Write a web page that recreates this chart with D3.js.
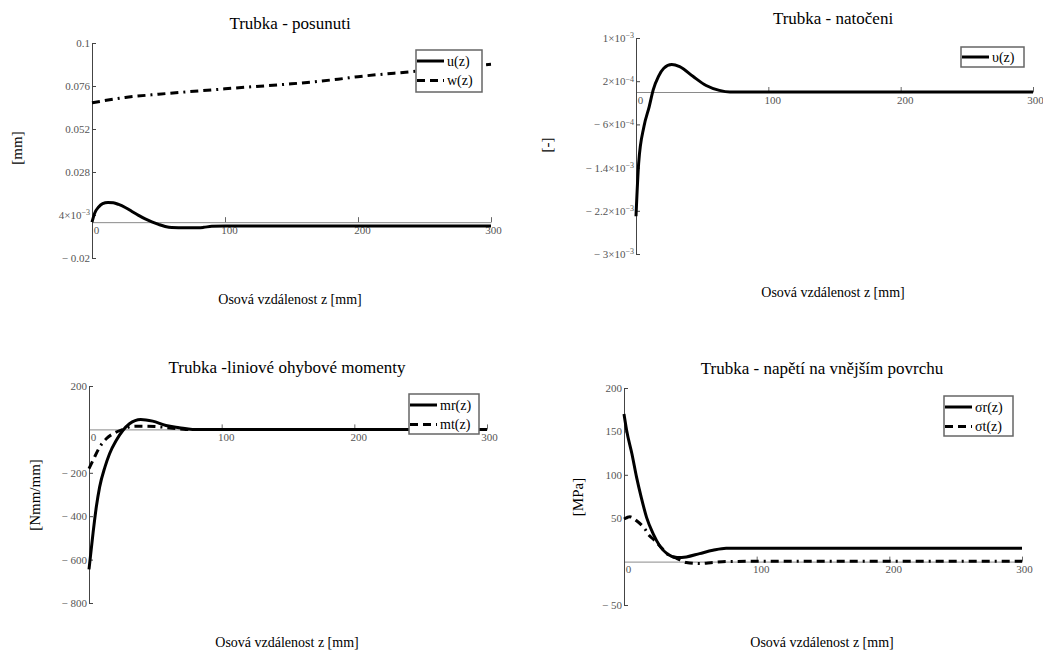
<!DOCTYPE html>
<html>
<head>
<meta charset="utf-8">
<script src="https://cdn.jsdelivr.net/npm/d3@7"></script>
<style>
  body { margin: 0; background: #fff; }
  svg text { font-family: "Liberation Serif", "DejaVu Serif", serif !important; }
</style>
</head>
<body>
<svg id="chart" width="1043" height="650"></svg>
<script>
// shared x axis (z in mm)
var xTicks = [0, 100, 200, 300];

// Trubka - posunuti
var zU = [0, 2, 5, 8, 12, 16, 20, 25, 30, 35, 40, 45, 50, 55, 60, 70, 80, 84, 90, 100, 150, 200, 250, 300];
var uVals = [0.0, 0.005, 0.0085, 0.0103, 0.011, 0.0108, 0.0099, 0.0082, 0.006, 0.0038, 0.0018, 0.0002, -0.0012, -0.0024, -0.003, -0.0031, -0.0031, -0.0029, -0.0023, -0.0022, -0.0022, -0.0022, -0.0022, -0.0022];
var zW = [0, 25, 50, 100, 115, 150, 185, 200, 240, 300];
var wVals = [0.0666, 0.0696, 0.0714, 0.0744, 0.0753, 0.0772, 0.0798, 0.0812, 0.084, 0.0881];
var posTicks = [0.1, 0.076, 0.052, 0.028, 0.004, -0.02];
var posLabels = ["0.1", "0.076", "0.052", "0.028", "4×10^−3", "− 0.02"];

// Trubka - natoceni
var zRot = [0, 2, 6, 10, 13, 17, 21, 27, 33, 43, 53, 63, 71, 80, 100, 200, 300];
var rotVals = [-0.0023, -0.00132, -0.00064, -0.00027, 0.00004, 0.00029, 0.00044, 0.00051, 0.00047, 0.00029, 0.00012, 0.00003, 0.0, 0.0, 0.0, 0.0, 0.0];
var rotTicks = [0.001, 0.0002, -0.0006, -0.0014, -0.0022, -0.003];
var rotLabels = ["1×10^−3", "2×10^−4", "− 6×10^−4", "− 1.4×10^−3", "− 2.2×10^−3", "− 3×10^−3"];

// Trubka - liniove ohybove momenty
var zMr = [0, 3, 5.5, 8, 12, 15.5, 20.5, 25.5, 30.5, 39, 48, 58, 68, 78, 100, 200, 300];
var mrVals = [-645, -480, -358, -266, -174, -112, -51, -5, 26, 46, 38, 18, 8, 0, 0, 0, 0];
var zMt = [0, 3, 8, 13, 19, 25.5, 33, 41, 51, 63, 73, 100, 200, 300];
var mtVals = [-181, -143, -82, -43, -17, 0, 14, 15, 13, 5, 0, 0, 0, 0];
var momTicks = [200, -200, -400, -600, -800];
var momLabels = ["200", "− 200", "− 400", "− 600", "− 800"];

// Trubka - napeti na vnejsim povrchu
var zSr = [0, 2, 6, 9.5, 13, 17, 22, 27, 33, 40, 47, 57, 67, 77, 100, 200, 300];
var srVals = [170, 151, 124, 97, 74, 51, 32, 18, 8.5, 4.6, 5.4, 9.2, 13, 15.4, 15.5, 15.5, 15.5];
var zSt = [0, 4.5, 9.5, 16, 18.5, 22, 27, 33, 40, 47, 57, 67, 77, 100, 200, 300];
var stVals = [49, 51.6, 47, 37, 31, 26, 18, 8.5, 3.5, -1.1, -2.3, -1, 0, 0.4, 0.4, 0.4];
var strTicks = [200, 150, 100, 50, -50];
var strLabels = ["200", "150", "100", "50", "− 50"];

var DASH = "8,5,8,5,2,5";

var svg = d3.select("#chart");

var panels = [
  { title: "Trubka - posunuti", yLabel: "[mm]",
    x0: 92, x1: 491, yTop: 43, yBottom: 258, yDomain: [-0.02, 0.1],
    yTicks: posTicks, yLabels: posLabels,
    titleXY: [290, 29], yLabelXY: [17, 148], xLabelXY: [290, 304],
    legend: { x: 416, y: 50, w: 66, h: 42 },
    series: [ { name: "u(z)", z: zU, v: uVals, dash: null },
              { name: "w(z)", z: zW, v: wVals, dash: DASH } ] },
  { title: "Trubka - natočeni", yLabel: "[-]",
    x0: 636, x1: 1033, yTop: 38, yBottom: 254, yDomain: [-0.003, 0.001],
    yTicks: rotTicks, yLabels: rotLabels,
    titleXY: [833, 24], yLabelXY: [547, 145], xLabelXY: [833, 297],
    legend: { x: 961, y: 47, w: 63, h: 20 },
    series: [ { name: "υ(z)", z: zRot, v: rotVals, dash: null } ] },
  { title: "Trubka -liniové ohybové momenty", yLabel: "[Nmm/mm]",
    x0: 89, x1: 487, yTop: 386, yBottom: 603, yDomain: [-800, 200],
    yTicks: momTicks, yLabels: momLabels,
    titleXY: [287, 373], yLabelXY: [35, 495], xLabelXY: [287, 647],
    legend: { x: 409, y: 394, w: 70, h: 40 },
    series: [ { name: "mr(z)", z: zMr, v: mrVals, dash: null },
              { name: "mt(z)", z: zMt, v: mtVals, dash: DASH } ] },
  { title: "Trubka - napětí na vnějším povrchu", yLabel: "[MPa]",
    x0: 624, x1: 1022, yTop: 388, yBottom: 605, yDomain: [-50, 200],
    yTicks: strTicks, yLabels: strLabels,
    titleXY: [822, 374], yLabelXY: [578, 497], xLabelXY: [822, 647],
    legend: { x: 944, y: 396, w: 69, h: 40 },
    series: [ { name: "σr(z)", z: zSr, v: srVals, dash: null },
              { name: "σt(z)", z: zSt, v: stVals, dash: DASH } ] }
];

panels.forEach(drawPanel);

// writes "a×10^b" as text with a raised exponent
function setLabel(sel, label) {
  sel.text(null);
  var parts = label.split("^");
  sel.append("tspan").text(parts[0]);
  if (parts.length > 1) {
    sel.append("tspan").attr("dy", "-0.45em").attr("font-size", "8px").text(parts[1]);
  }
}

function drawPanel(p) {
  var g = svg.append("g");

  var x = d3.scaleLinear().domain([0, 300]).range([p.x0, p.x1]);
  var y = d3.scaleLinear().domain(p.yDomain).range([p.yBottom, p.yTop]);

  // zero line with z ticks
  var xAxis = d3.axisBottom(x)
    .tickValues(xTicks)
    .tickSizeInner(-5)
    .tickSizeOuter(0)
    .tickPadding(4)
    .tickFormat(d3.format("d"));

  var gx = g.append("g")
    .attr("transform", "translate(0," + y(0) + ")")
    .call(xAxis);
  gx.select(".domain").attr("stroke", "#8a8a8a");
  gx.selectAll(".tick line").attr("stroke", "#666");
  gx.selectAll(".tick text")
    .attr("dx", function(d) { return d === 300 ? 2 : 4; })
    .attr("fill", "#555")
    .style("font-size", "11px");

  var yAxis = d3.axisLeft(y)
    .tickValues(p.yTicks)
    .tickSizeInner(-4)
    .tickSizeOuter(0)
    .tickPadding(2);

  var gy = g.append("g")
    .attr("transform", "translate(" + p.x0 + ",0)")
    .call(yAxis);
  gy.select(".domain").attr("stroke", "#444");
  gy.selectAll(".tick line").attr("stroke", "#444");
  gy.selectAll(".tick text")
    .attr("fill", "#555")
    .style("font-size", "11px")
    .each(function(d, i) { setLabel(d3.select(this), p.yLabels[i]); });

  // curves
  var line = d3.line()
    .x(function(d) { return x(d[0]); })
    .y(function(d) { return y(d[1]); })
    .curve(d3.curveMonotoneX);

  p.series.forEach(function(s) {
    var pts = s.z.map(function(z, i) { return [z, s.v[i]]; });
    g.append("path")
      .datum(pts)
      .attr("fill", "none")
      .attr("stroke", "#000")
      .attr("stroke-width", 3)
      .attr("stroke-dasharray", s.dash)
      .attr("d", line);
  });

  // texts
  g.append("text")
    .attr("x", p.titleXY[0]).attr("y", p.titleXY[1])
    .attr("text-anchor", "middle")
    .style("font-size", "17px")
    .text(p.title);

  g.append("text")
    .attr("transform", "translate(" + p.yLabelXY[0] + "," + p.yLabelXY[1] + ") rotate(-90)")
    .attr("text-anchor", "middle")
    .attr("dy", "0.35em")
    .style("font-size", "15px")
    .text(p.yLabel);

  g.append("text")
    .attr("x", p.xLabelXY[0]).attr("y", p.xLabelXY[1])
    .attr("text-anchor", "middle")
    .style("font-size", "14px")
    .text("Osová vzdálenost z [mm]");

  // legend
  var L = p.legend;
  var lg = g.append("g").attr("transform", "translate(" + L.x + "," + L.y + ")");
  lg.append("rect")
    .attr("width", L.w).attr("height", L.h)
    .attr("fill", "#fff")
    .attr("stroke", "#666")
    .attr("stroke-width", 1.5);

  var first = p.series.length > 1 ? 11 : L.h / 2;
  p.series.forEach(function(s, i) {
    var cy = first + i * 19.5;
    lg.append("line")
      .attr("x1", 1).attr("x2", 28)
      .attr("y1", cy).attr("y2", cy)
      .attr("stroke", "#000")
      .attr("stroke-width", 3)
      .attr("stroke-dasharray", s.dash);
    lg.append("text")
      .attr("x", 31).attr("y", cy)
      .attr("dy", "0.35em")
      .style("font-size", "14px")
      .text(s.name);
  });
}
</script>
</body>
</html>
